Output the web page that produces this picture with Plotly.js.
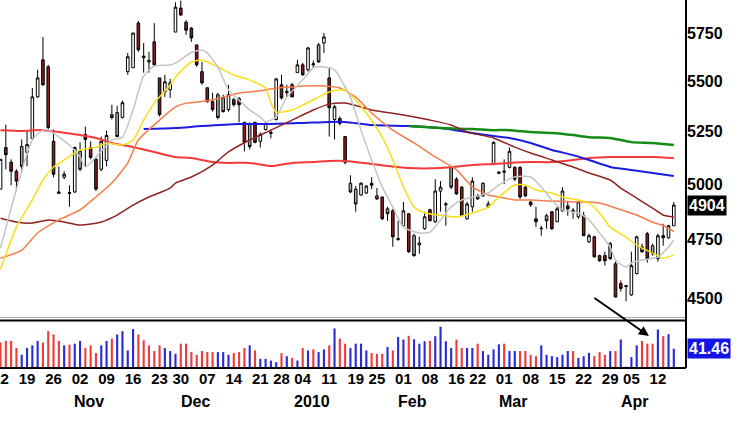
<!DOCTYPE html>
<html><head><meta charset="utf-8">
<script src="https://cdn.plot.ly/plotly-3.0.1.min.js"></script>
<style>html,body{margin:0;padding:0;background:#fff;}#chart{width:750px;height:421px;}</style>
</head><body><div id="chart"></div>
<script>
// ---- trading calendar (x categories) ----
const firstDay = '2009-10-12';
const lastDay = '2010-04-15';
const holidays = ['2009-11-26','2009-12-25','2010-01-01','2010-01-18','2010-02-15','2010-04-02'];
function tradingDays(a, b, hol) {
  const out = []; const d = new Date(a + 'T00:00:00Z'); const e = new Date(b + 'T00:00:00Z');
  while (d <= e) { const wd = d.getUTCDay(); const s = d.toISOString().slice(0, 10);
    if (wd !== 0 && wd !== 6 && !hol.includes(s)) out.push(s); d.setUTCDate(d.getUTCDate() + 1); }
  return out;
}
const dates = tradingDays(firstDay, lastDay, holidays);
const monthNames = ['2010','Feb','Mar','Apr','May','Jun','Jul','Aug','Sep','Oct','Nov','Dec'];

// ---- OHLC ----
const open = [4977,5172,5102,5060,5177,5149,5216,5420,5609,5573,
5202,4964,5032,4957,4964,5154,5235,5172,5116,5069,
5111,5332,5342,5318,5548,5568,5803,5620,5598,5703,
5516,5446,5456,5755,5884,5808,5776,5687,5548,5466,
5396,5431,5415,5357,5406,5411,5294,5284,5294,5202,
5259,5240,5308,5481,5441,5481,5543,5583,5558,5583,
5687,5697,5516,5308,5313,5225,5004,4977,4950,4959,
5004,4946,4941,4887,4878,4750,4811,4865,4767,4727,
4798,4883,4829,4968,4905,5078,5023,4986,4842,4896,
4946,5004,4896,5092,5050,5055,5078,5078,5078,4986,
4918,4842,4798,4856,4874,4829,4878,4900,4874,4851,
4856,4740,4762,4680,4680,4732,4645,4561,4548,4513,
4603,4718,4776,4723,4667,4767,4758,4811];
const high = [5116,5283,5116,5069,5211,5250,5465,5558,5729,5583,
5259,5083,5060,4995,5177,5197,5273,5202,5125,5225,
5254,5381,5376,5401,5645,5750,5814,5697,5651,5803,
5516,5532,5511,5916,5925,5819,5782,5687,5598,5466,
5441,5441,5431,5481,5415,5420,5294,5294,5294,5245,
5294,5259,5516,5532,5481,5491,5609,5594,5677,5605,
5697,5750,5568,5381,5323,5225,5041,4991,5009,4995,
5032,4982,4941,4896,4887,4833,4918,4865,4776,4762,
4874,4887,5023,5014,4918,5083,5032,4991,4918,5032,
4955,5009,4923,5202,5060,5116,5172,5083,5083,4991,
4923,4896,4811,4865,4874,4896,4986,4923,4891,4923,
4874,4776,4767,4684,4697,4740,4654,4574,4552,4697,
4767,4732,4784,4732,4776,4820,4815,4918];
const low = [4977,5069,4995,4968,5055,5083,5216,5415,5476,5259,
5032,4955,5023,4896,4959,5060,5083,5116,4968,5060,
5083,5308,5225,5313,5532,5568,5651,5543,5543,5573,
5323,5420,5415,5755,5840,5740,5703,5573,5481,5391,
5347,5308,5342,5347,5371,5294,5154,5163,5192,5172,
5254,5216,5303,5406,5420,5420,5543,5527,5548,5568,
5594,5645,5225,5211,5279,5092,4959,4874,4946,4955,
4977,4928,4838,4833,4718,4745,4811,4692,4675,4688,
4793,4833,4824,4874,4811,4977,4950,4856,4838,4874,
4928,4941,4891,5088,5046,5000,5074,5014,4932,4941,
4896,4806,4767,4798,4793,4829,4874,4856,4842,4842,
4767,4736,4671,4654,4637,4662,4504,4527,4487,4509,
4599,4692,4650,4680,4654,4723,4754,4811];
const close = [5116,5138,5060,5014,5083,5186,5420,5516,5481,5269,
5046,4958,5046,4961,5172,5069,5211,5125,4977,5202,
5230,5318,5225,5391,5625,5750,5661,5628,5605,5583,
5332,5496,5491,5889,5847,5765,5724,5583,5491,5396,
5357,5318,5347,5431,5381,5381,5197,5177,5197,5235,
5289,5245,5511,5415,5448,5420,5583,5532,5671,5588,
5598,5729,5366,5371,5289,5102,4964,4909,5004,4991,
4995,4932,4842,4865,4762,4754,4878,4697,4680,4735,
4851,4833,4968,4986,4909,4986,4955,4856,4909,5014,
4932,4946,4909,5197,5055,5060,5154,5023,4941,4946,
4905,4829,4800,4833,4798,4887,4968,4887,4880,4918,
4767,4767,4675,4658,4658,4667,4504,4540,4552,4637,
4762,4697,4667,4688,4767,4758,4811,4904];
// candle body style: w = hollow, r = dark red, g = grey
const candleKind = ('wrrrgwwwrr'+'rrwwwgrrrw'+'wggwwwrwwr'+'rwwwrrrrrr'+'rggwrrrgrw'+
  'wwwrwrwrww'+'gwrwrrggww'+'rgrgrwwrgw'+'wrwwwgrrww'+'ggwwwwwrrr'+'rrwgrwwrww'+'rwrrrgrrww'+'wgrgwrww').split('');

// ---- volume ----
const volume = [55,
58.2,58.2,42.9,28.4,42.9,48.7,58.2,54.5,79.2,72.0,
58.2,48.7,50.2,52.3,58.2,42.9,48.7,32.0,48.7,58.2,
63.2,72.0,79.2,37.8,83.6,72.0,59.6,48.7,36.4,48.7,
42.9,36.4,30.5,52.3,52.3,34.2,28.4,36.4,34.2,34.2,
34.2,34.2,28.4,32.0,34.2,42.9,48.7,37.8,19.6,19.6,
16.0,12.4,32.0,25.4,21.8,16.0,42.9,37.8,40.0,34.2,
40.0,48.7,85.1,63.2,52.3,42.9,52.3,52.3,37.8,32.0,
30.5,30.5,45.1,37.8,66.9,61.1,69.1,61.8,52.3,57.4,
58.2,68.3,88.7,57.4,42.9,61.1,42.9,42.9,42.9,52.3,
36.4,28.4,40.0,50.9,52.3,36.4,36.4,36.4,36.4,28.4,
25.4,48.7,28.4,25.4,23.3,28.4,36.4,36.4,21.8,25.4,
32.7,25.4,34.2,28.4,36.4,36.4,61.1,2.9,23.3,48.7,
58.2,52.3,52.3,82.9,68.3,72.7,41.46];
const volumeKind = ('r'+'rrrbbbbrrr'+'rbrbbrrrbb'+'rbbbbrrrrr'+'bbbrrrrrrr'+'bbbrrrbrbb'+'bbrbrbrbrb'+
  'brbrrbbbbr'+'rrbrbbrbbb'+'rbbbbrrbbr'+'bbbbrbbrrr'+'rbbbbbbrbb'+'brrrbrbbbb'+'rrrbrbb').split('');

// ---- moving averages (trading-day index, value) ----
const maGrayIdx = [0,6,8,9,13,15,16,21,23,25,27,29,32,33,36,38,39,41,43,45,47,49,50,52,54,57,59,61,63,65,66,68,70,72,74,76,79,81,83,85,87,89,92,94,97,100,102,104,106,109,111,113,115,116,118,119,121,124,126,127];
const maGrayVal = [4713,5208,5256,5256,5184,5127,5080,5208,5222,5355,5525,5577,5582,5592,5647,5660,5645,5572,5455,5404,5355,5320,5296,5320,5419,5505,5567,5572,5557,5470,5419,5256,5113,4987,4895,4805,4779,4783,4837,4895,4927,4940,4959,4996,5033,5033,4987,4927,4882,4868,4837,4779,4717,4661,4631,4648,4661,4674,4717,4748];
const maYellowIdx = [0,3,6,8,10,12,15,18,20,23,25,27,29,32,33,36,38,41,44,47,50,51,52,55,57,60,62,65,67,69,72,74,76,78,80,83,86,89,92,94,97,99,101,104,106,109,111,113,115,118,120,123,125,127];
const maYellowVal = [4622,4805,4927,5019,5080,5113,5160,5174,5193,5184,5208,5305,5389,5480,5520,5598,5608,5572,5531,5505,5465,5389,5345,5355,5379,5419,5445,5455,5404,5340,5222,5113,4987,4895,4868,4859,4850,4868,4895,4941,4996,4996,4973,4959,4941,4927,4913,4868,4805,4761,4726,4691,4669,4682];
const maOrangeIdx = [0,4,7,11,15,18,21,24,26,30,33,35,37,40,42,45,47,50,52,55,57,61,64,67,70,74,78,82,86,89,92,94,97,100,104,108,111,113,116,120,123,125,127];
const maOrangeVal = [4669,4704,4779,4837,4882,4941,5005,5099,5208,5305,5370,5389,5394,5404,5419,5440,5445,5455,5465,5470,5475,5475,5465,5419,5340,5256,5194,5127,5066,4987,4950,4941,4927,4927,4922,4918,4918,4913,4891,4859,4827,4812,4785];
const maMaroonIdx = [0,3,6,9,12,15,17,19,22,25,28,32,33,36,40,43,47,51,55,59,62,65,68,70,76,81,85,88,93,97,100,104,108,111,115,117,120,123,125,127];
const maMaroonVal = [4845,4828,4823,4837,4828,4814,4819,4828,4859,4904,4941,4982,5005,5033,5089,5151,5208,5256,5305,5355,5384,5389,5370,5355,5330,5305,5281,5247,5218,5174,5146,5113,5080,5052,5019,4982,4936,4890,4859,4850];
const maRedIdx = [0,4,8,11,15,18,21,25,29,33,36,40,43,47,51,55,59,62,65,70,77,83,89,93,96,100,104,108,111,115,119,123,127];
const maRedVal = [5256,5252,5256,5247,5232,5218,5194,5174,5151,5127,5122,5103,5099,5099,5084,5099,5103,5108,5108,5094,5075,5075,5089,5094,5099,5103,5103,5113,5122,5127,5127,5127,5122];
const maBlueIdx = [27,33,38,45,51,57,62,65,70,77,83,89,93,96,100,104,108,111,115,119,123,127];
const maBlueVal = [5261,5266,5276,5286,5286,5291,5296,5296,5281,5276,5266,5242,5227,5218,5194,5160,5136,5113,5080,5066,5052,5038];
const maGreenIdx = [77,83,89,93,96,100,104,108,111,115,119,123,127];
const maGreenVal = [5276,5266,5261,5256,5256,5247,5242,5232,5222,5218,5198,5194,5184];

const priceTicks = [4500,4750,5000,5250,5500,5750];

// ---- build ----
const N = dates.length;
const FONT = 'Liberation Sans, Arial, sans-serif';
function ma(idx, val, color, width) {
  return {type:'scatter', mode:'lines', x:idx, y:val, xaxis:'x', yaxis:'y',
    line:{color:color, width:width, shape:'spline', smoothing:0.6}, hoverinfo:'skip', showlegend:false};
}
function candles(kind, fill) {
  const ids = [...Array(N).keys()].filter(i => candleKind[i] === kind);
  const st = {line:{color:'#000', width:1}, fillcolor:fill};
  return {type:'candlestick', x:ids, open:ids.map(i=>open[i]), high:ids.map(i=>high[i]),
    low:ids.map(i=>low[i]), close:ids.map(i=>close[i]), xaxis:'x', yaxis:'y',
    increasing:st, decreasing:st, whiskerwidth:0, hoverinfo:'skip', showlegend:false};
}
const traces = [
  ma(maRedIdx, maRedVal, '#f23a3a', 2),
  ma(maBlueIdx, maBlueVal, '#1c1ce0', 2),
  ma(maGreenIdx, maGreenVal, '#158a15', 2.5),
  ma(maMaroonIdx, maMaroonVal, '#8e2323', 1.5),
  ma(maOrangeIdx, maOrangeVal, '#f47c4c', 1.5),
  ma(maYellowIdx, maYellowVal, '#f7e01a', 1.5),
  ma(maGrayIdx, maGrayVal, '#c4c4c4', 1.5),
  candles('w', '#ffffff'),
  candles('r', '#8b1a1a'),
  candles('g', '#a6a6a6'),
  {type:'bar', x:[...Array(N).keys()], y:volume, xaxis:'x', yaxis:'y2', width:0.4,
   marker:{color:volumeKind.map(k => k === 'r' ? '#ee3b3b' : '#2a2ad6'), line:{width:0}},
   hoverinfo:'skip', showlegend:false}
];

// week ticks and month labels from the calendar
const tickvals = [], ticktext = [], annotations = [];
dates.forEach((d, i) => {
  const wd = new Date(d + 'T00:00:00Z').getUTCDay();
  const prev = i > 0 ? new Date(dates[i-1] + 'T00:00:00Z').getUTCDay() : 9;
  if (i === 0 || wd < prev) { tickvals.push(i); ticktext.push(d.slice(8, 10)); }
  if (i > 0 && d.slice(5, 7) !== dates[i-1].slice(5, 7)) {
    annotations.push({xref:'x', yref:'paper', x:i, y:-0.09, xshift:9, text:monthNames[(+d.slice(5,7)) - 1],
      showarrow:false, xanchor:'center', yanchor:'middle', font:{family:FONT, size:16, color:'#000', weight:'bold'}});
  }
});
annotations.push({xref:'paper', yref:'y', x:1, y:Math.log10(close[N-1]), xshift:1, xanchor:'left', yanchor:'middle',
  text:String(close[N-1]), showarrow:false, bgcolor:'#000', borderpad:1,
  font:{family:FONT, size:16, color:'#fff', weight:'bold'}});
annotations.push({xref:'paper', yref:'y2', x:1, y:volume[N-1], xshift:1, xanchor:'left', yanchor:'middle',
  text:volume[N-1].toFixed(2), showarrow:false, bgcolor:'#1414e6', borderpad:1,
  font:{family:FONT, size:16, color:'#fff', weight:'bold'}});
annotations.push({xref:'paper', yref:'paper', x:0.946, y:0.087, ax:-56, ay:-39, text:'', showarrow:true,
  arrowhead:2, arrowsize:1, arrowwidth:2, arrowcolor:'#000'});

const layout = {
  width:750, height:421, margin:{l:0, r:64, t:0, b:53},
  paper_bgcolor:'#fff', plot_bgcolor:'#fff', showlegend:false,
  xaxis:{range:[-0.1, 129.3], anchor:'y2', tickvals:tickvals, ticktext:ticktext,
    tickfont:{family:FONT, size:15, color:'#000', weight:'bold'}, ticks:'', ticklabeloverflow:'allow',
    showgrid:false, zeroline:false, showline:false, tickangle:0,
    rangeslider:{visible:false}, fixedrange:true},
  yaxis:{domain:[0.1359, 1], type:'log', range:[Math.log10(4417.7), Math.log10(5928.2)], side:'right',
    anchor:'x', tickvals:priceTicks, ticktext:priceTicks.map(String), ticks:'', showgrid:false, zeroline:false,
    tickfont:{family:FONT, size:16, color:'#000', weight:'bold'}, fixedrange:true},
  yaxis2:{domain:[0, 0.1277], range:[0, 101], anchor:'x', showticklabels:false, showgrid:false,
    zeroline:false, ticks:'', fixedrange:true},
  shapes:[
    {type:'line', xref:'paper', yref:'paper', x0:0, x1:1, y0:0.1372, y1:0.1372, line:{color:'#a8a8a8', width:1}},
    {type:'line', xref:'paper', yref:'paper', x0:0, x1:1, y0:0.1291, y1:0.1291, line:{color:'#000', width:2}},
    {type:'line', xref:'paper', yref:'paper', x0:0, x1:1, y0:0, y1:0, line:{color:'#000', width:2}},
    {type:'line', xref:'paper', yref:'paper', x0:1, x1:1, y0:0, y1:1, line:{color:'#000', width:2}}
  ],
  annotations:annotations
};
Plotly.newPlot('chart', traces, layout, {staticPlot:true, displayModeBar:false});
</script></body></html>
